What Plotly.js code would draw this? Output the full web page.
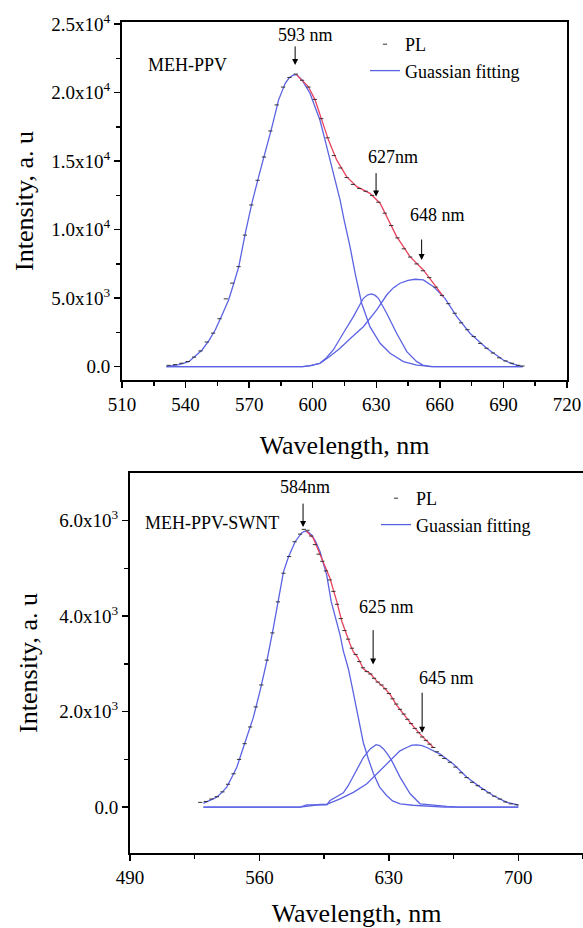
<!DOCTYPE html>
<html>
<head>
<meta charset="utf-8">
<script src="https://cdn.plot.ly/plotly-3.0.1.min.js"></script>
<style>html,body{margin:0;padding:0;background:#fff;}#chart{width:583px;height:928px;}</style>
</head>
<body>
<div id="chart"></div>
<script>
// ---------- TOP PANEL: MEH-PPV ----------
const topPL_wl = [532,535,538,541,544,547,550,553,556,559,562,565,568,571,574,577,580,583,586,589,592,595,598,601,604,607,610,613,616,619,622,625,628,631,634,637,640,643,646,649,652,655,658,661,664,667,670,673,676,679,682,685,688,691,694,697,699];
const topPL_int = [100,150,250,380,700,1150,1800,2450,3500,4950,6100,7300,9600,11800,13600,15300,17200,19100,20400,21100,21350,20900,20400,19500,18100,16700,15400,14500,13800,13300,13000,12800,12500,12000,11200,10300,9400,8600,8000,7500,7000,6500,5800,5200,4600,3900,3200,2700,2200,1700,1350,1000,650,420,250,100,50];

const topMain_wl = [531,533,537,541.5,544.5,547.8,551,554,557,560.3,562.7,565.1,568.2,571.3,574.5,577.6,580.8,583.9,587.1,589,591,592.5,595,598.7,601.1,603.4,605.8,608.2,610.5,612.9,614.8,617.6,620,623.1,627,631.8,636.5,642.8,649.1,657,699];
const topMain_int = [0,50,150,370,750,1220,1900,2680,3700,4870,6050,7300,9740,11930,13870,15580,17520,19470,20690,21100,21290,21290,20900,19950,18980,18000,16550,15090,13630,12170,10710,8760,6820,4630,2920,1710,980,370,120,0,0];

const topC2_wl = [531,595.6,599,603.4,606.5,609.7,614.4,619.2,623.9,626,627.8,629.5,631,634.9,639.6,644.4,649.1,652,655.4,699];
const topC2_int = [0,0,80,250,650,1220,2440,3650,4990,5250,5310,5200,4990,3900,2440,1100,370,120,0,0];

const topC3_wl = [531,595,599,603.4,608,612.9,618,623.9,630.2,634.9,638,641.2,645,648.3,652.2,657,662.4,668,674.2,682.1,689.9,694,697.8,699.1];
const topC3_int = [0,0,80,250,750,1340,2100,2920,4140,5230,5750,6090,6300,6380,6330,5840,4990,3650,2440,1340,490,220,50,0];

const topSum_wl = [592.4,597.9,601.1,604.2,607.4,611.3,616,620.8,627,631.8,635.7,639.6,642.8,645.9,652.2,657,661.7];
const topSum_int = [21290,20440,19470,18000,16550,15090,13870,13140,12650,11930,10710,9490,8760,8030,7060,6090,5110];

const topYTickVals = [0,5000,10000,15000,20000,25000];
const topYTickText = ['0.0','5.0x10<sup>3</sup>','1.0x10<sup>4</sup>','1.5x10<sup>4</sup>','2.0x10<sup>4</sup>','2.5x10<sup>4</sup>'];
const topYMinor = [2500,7500,12500,17500,22500];
const topXTickVals = [510,540,570,600,630,660,690,720];
const topXMinor = [525,555,585,615,645,675,705];

// ---------- BOTTOM PANEL: MEH-PPV-SWNT ----------
const botPL_wl = [528,531,534,537,540,543,546,549,552,555,558,561,564,567,570,573,576,579,582,584,586,588,590,592,594,596,598,600,602,604,606,608,610,612,614,616,618,620,622,624,626,628,630,632,634,636,638,640,642,644,646,648,650,652,654,656,658,660,663,666,669,672,675,678,681,684,687,690,693,696,699];
const botPL_int = [100,120,170,220,320,480,700,1000,1330,1680,2100,2560,3080,3650,4300,4900,5250,5560,5720,5820,5800,5680,5500,5300,5150,4950,4760,4520,4250,3950,3700,3520,3330,3200,3050,2920,2840,2790,2700,2620,2560,2480,2380,2270,2160,2050,1950,1840,1750,1650,1560,1470,1400,1320,1250,1160,1080,1020,940,840,720,620,520,450,370,300,230,170,110,70,50];

const botMain_wl = [529.7,533,536.9,540,542.3,545,547.7,551.3,554,556.7,560.3,564,567.5,570.2,573,575.7,579.3,582.9,584.7,586.5,588.3,590.5,592.8,594.6,596.4,598.8,601.5,603.6,605.4,608.1,610.5,612.7,616.2,619,621.7,625,628.9,632,636.1,643,650,660,700];
const botMain_int = [80,140,210,320,420,620,830,1250,1560,1880,2430,3060,3750,4310,4930,5240,5560,5750,5780,5760,5700,5560,5350,5100,4860,4310,3900,3610,3270,2900,2450,2050,1350,1000,700,420,240,130,70,40,20,0,0];

const botC2_wl = [529.7,582,585.6,596.4,598.2,602,605.4,608,610.8,613.5,616.2,619.9,623.1,625,627.1,629.5,631.6,636.1,641.5,646.9,654.1,661.4,668,700];
const botC2_int = [0,0,50,50,140,220,300,450,650,850,1040,1220,1310,1290,1220,1100,970,625,280,70,35,15,0,0];

const botC3_wl = [529.7,582,592.8,596.4,603.6,610.8,618.1,625.3,632.5,636,639.7,642.5,645.1,648,650.5,657.7,665,672.2,679.4,686.6,693.8,699.2,700];
const botC3_int = [0,0,56,60,175,310,490,765,1040,1180,1250,1300,1306,1290,1250,1110,900,625,420,240,100,56,30];

const botSum_wl = [585.5,589.2,593.7,598.2,601.8,604.6,609,610.8,613,616.2,619.9,623.5,627,630.7,634,637.9,642,646.9,650.5,654.1];
const botSum_int = [5780,5630,5210,4790,4310,3890,3420,3250,3150,2900,2800,2640,2520,2360,2150,1950,1750,1530,1400,1250];

const botYTickVals = [0,2000,4000,6000];
const botYTickText = ['0.0','2.0x10<sup>3</sup>','4.0x10<sup>3</sup>','6.0x10<sup>3</sup>'];
const botYMinor = [-1000,1000,3000,5000];
const botXTickVals = [490,560,630,700];
const botXMinor = [525,595,665,735];

// ---------- STYLE ----------
const BLUE = '#5b63e3';
const RED = '#e8425e';
const FONT = '"Liberation Serif", "Times New Roman", Times, serif';

function line(x, y, xa, ya, color, name, showlegend, legend) {
  return {x: x, y: y, xaxis: xa, yaxis: ya, mode: 'lines', type: 'scatter',
    line: {color: color, width: 1.3}, name: name, showlegend: showlegend, legend: legend,
    legendrank: 2, hoverinfo: 'skip'};
}
function pts(x, y, xa, ya, legend) {
  return {x: x, y: y, xaxis: xa, yaxis: ya, mode: 'markers', type: 'scatter', name: 'PL',
    legend: legend, legendrank: 1,
    marker: {symbol: 'line-ew', size: 3, color: '#333', line: {color: '#333', width: 1}}, hoverinfo: 'skip'};
}

const traces = [
  line(topMain_wl, topMain_int, 'x', 'y', BLUE, 'Guassian fitting', true, 'legend'),
  line(topC2_wl, topC2_int, 'x', 'y', BLUE, 'c2', false, 'legend'),
  line(topC3_wl, topC3_int, 'x', 'y', BLUE, 'c3', false, 'legend'),
  line(topSum_wl, topSum_int, 'x', 'y', RED, 'sum', false, 'legend'),
  pts(topPL_wl, topPL_int, 'x', 'y', 'legend'),
  line(botMain_wl, botMain_int, 'x2', 'y2', BLUE, 'Guassian fitting', true, 'legend2'),
  line(botC2_wl, botC2_int, 'x2', 'y2', BLUE, 'c2', false, 'legend2'),
  line(botC3_wl, botC3_int, 'x2', 'y2', BLUE, 'c3', false, 'legend2'),
  line(botSum_wl, botSum_int, 'x2', 'y2', RED, 'sum', false, 'legend2'),
  pts(botPL_wl, botPL_int, 'x2', 'y2', 'legend2')
];

const axCommon = {
  showline: true, linecolor: '#000', linewidth: 2, showgrid: false, zeroline: false,
  ticks: 'outside', ticklen: 6, tickwidth: 1.5, tickcolor: '#000',
  tickfont: {family: FONT, size: 19, color: '#000'}
};
const titleFont = {family: FONT, size: 26, color: '#000'};

const layout = {
  width: 583, height: 928,
  margin: {l: 0, r: 0, t: 0, b: 0},
  paper_bgcolor: '#fff', plot_bgcolor: '#fff',
  font: {family: FONT, color: '#000'},
  xaxis: Object.assign({}, axCommon, {
    domain: [122/583, 567/583], anchor: 'y', range: [510, 720], mirror: true,
    tickmode: 'array', tickvals: topXTickVals,
    minor: {tickmode: 'array', tickvals: topXMinor, ticks: 'outside', ticklen: 4, tickwidth: 1.5, tickcolor: '#000'},
    title: {text: 'Wavelength, nm', font: titleFont, standoff: 22}
  }),
  yaxis: Object.assign({}, axCommon, {
    domain: [1 - 380/928, 1 - 22/928], anchor: 'x', range: [-970, 25150], mirror: true,
    tickmode: 'array', tickvals: topYTickVals, ticktext: topYTickText,
    minor: {tickmode: 'array', tickvals: topYMinor, ticks: 'outside', ticklen: 4, tickwidth: 1.5, tickcolor: '#000'},
    title: {text: 'Intensity, a. u', font: titleFont, standoff: 10}
  }),
  xaxis2: Object.assign({}, axCommon, {
    domain: [130/583, 1], anchor: 'y2', range: [490, 735], mirror: true,
    tickmode: 'array', tickvals: botXTickVals,
    minor: {tickmode: 'array', tickvals: botXMinor, ticks: 'outside', ticklen: 4, tickwidth: 1.5, tickcolor: '#000'},
    title: {text: 'Wavelength, nm', font: titleFont, standoff: 22}
  }),
  yaxis2: Object.assign({}, axCommon, {
    domain: [1 - 853/928, 1 - 473/928], anchor: 'x2', range: [-960, 7000], mirror: false,
    tickmode: 'array', tickvals: botYTickVals, ticktext: botYTickText,
    minor: {tickmode: 'array', tickvals: botYMinor, ticks: 'outside', ticklen: 4, tickwidth: 1.5, tickcolor: '#000'},
    title: {text: 'Intensity, a. u', font: titleFont, standoff: 14}
  }),
  legend: {x: 365/583, y: 1 - 26/928, xanchor: 'left', yanchor: 'top', bgcolor: 'rgba(0,0,0,0)',
    font: {family: FONT, size: 18, color: '#000'}, itemwidth: 30, tracegroupgap: 0, traceorder: 'normal'},
  legend2: {x: 376/583, y: 1 - 480/928, xanchor: 'left', yanchor: 'top', bgcolor: 'rgba(0,0,0,0)',
    font: {family: FONT, size: 18, color: '#000'}, itemwidth: 30, tracegroupgap: 0, traceorder: 'normal'},
  annotations: []
};

const annFont = {family: FONT, size: 18, color: '#000'};
function txt(text, x, y, xr, yr) {
  return {text: text, x: x, y: y, xref: xr, yref: yr, showarrow: false, font: annFont, xanchor: 'center', yanchor: 'middle'};
}
function arr(x, yHead, yTail, xr, yr) {
  return {text: '', x: x, y: yHead, ax: x, ay: yTail, xref: xr, yref: yr, axref: xr, ayref: yr,
    showarrow: true, arrowhead: 2, arrowsize: 1.2, arrowwidth: 1, arrowcolor: '#000'};
}
layout.annotations.push(
  txt('MEH-PPV', 540.7, 22000, 'x', 'y'),
  txt('593 nm', 596.8, 24200, 'x', 'y'),
  arr(591.7, 22020, 23480, 'x', 'y'),
  txt('627nm', 637.9, 15270, 'x', 'y'),
  arr(629.9, 12410, 14230, 'x', 'y'),
  txt('648 nm', 659.1, 11070, 'x', 'y'),
  arr(651.4, 7790, 9390, 'x', 'y'),
  txt('MEH-PPV-SWNT', 534.4, 5950, 'x2', 'y2'),
  txt('584nm', 584.7, 6700, 'x2', 'y2'),
  arr(583.6, 5870, 6390, 'x2', 'y2'),
  txt('625 nm', 628.5, 4200, 'x2', 'y2'),
  arr(621.5, 2990, 3740, 'x2', 'y2'),
  txt('645 nm', 661, 2700, 'x2', 'y2'),
  arr(648, 1560, 2430, 'x2', 'y2')
);

Plotly.newPlot('chart', traces, layout, {displayModeBar: false, staticPlot: true});
</script>
</body>
</html>
